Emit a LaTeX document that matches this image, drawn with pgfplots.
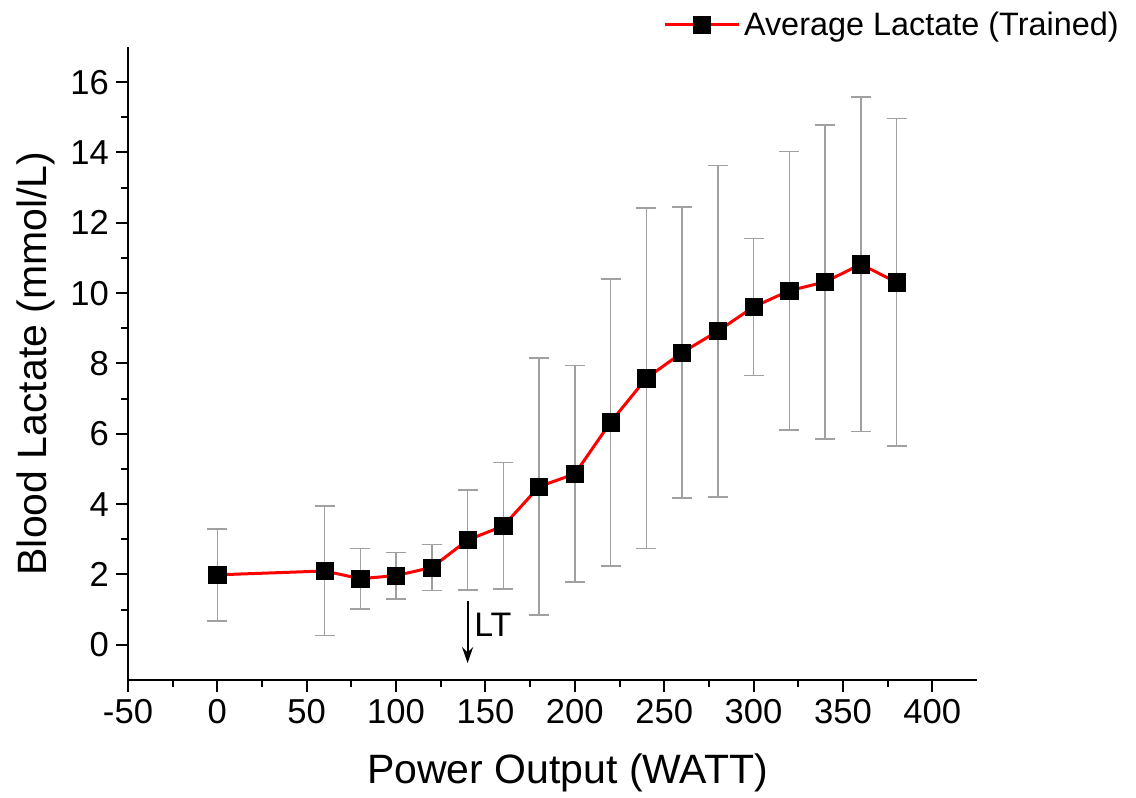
\documentclass[border=0pt]{standalone}
\usepackage{pgfplots}
\pgfplotsset{compat=1.18}
\usepackage{fontspec}
\setmainfont{Liberation Sans}
\usetikzlibrary{arrows.meta}
\definecolor{errgray}{RGB}{160,160,160}
\begin{document}
\begin{tikzpicture}
\path[use as bounding box] (-64pt,-59pt) rectangle (504pt,340pt);
\begin{axis}[
  scale only axis,
  width=424.5pt, height=316.5pt,
  xmin=-50, xmax=425, ymin=-1, ymax=17,
  axis x line*=bottom, axis y line*=left,
  axis line style={line width=1pt},
  tick align=outside,
  major tick length=6pt, minor tick length=3.5pt,
  every tick/.style={line width=1pt, black},
  xtick={-50,0,...,400}, ytick={0,2,...,16},
  minor x tick num=1, minor y tick num=1,
  /pgf/number format/assume math mode=true,
  tick label style={font=\fontsize{17.3}{19}\selectfont},
  xlabel={Power Output (WATT)},
  ylabel={Blood Lactate (mmol/L)},
  label style={font=\fontsize{20.5}{23}\selectfont},
  xlabel style={yshift=-8pt, xshift=7.5pt},
  ylabel style={yshift=1pt},
  legend style={draw=none, fill=none, at={(rel axis cs:1.172,1.035)}, anchor=east,
    font=\fontsize{16.2}{18}\selectfont, inner sep=0pt},
  legend image code/.code={\draw[#1,mark repeat=2,mark phase=2] plot coordinates {(0pt,0pt) (18.5pt,0pt) (37pt,0pt)};},
  clip=false,
]
\addplot[forget plot, draw=none, mark=none,
  error bars/.cd, y dir=both, y explicit,
  error bar style={draw=errgray, line width=0.8pt},
  error mark options={draw=errgray, rotate=90, mark size=5pt, line width=0.8pt}]
  table[x=x, y=y, y error=e] {
x y e
0 1.99 1.31
60 2.10 1.84
80 1.88 0.86
100 1.97 0.66
120 2.20 0.65
140 2.98 1.42
160 3.38 1.80
180 4.50 3.66
200 4.86 3.08
220 6.33 4.08
240 7.58 4.84
260 8.31 4.14
280 8.92 4.71
300 9.61 1.95
320 10.07 3.96
340 10.32 4.46
360 10.82 4.75
380 10.31 4.66
};
\addplot[red, line width=1.5pt, mark=square*, mark size=4.3pt,
  mark options={fill=black, draw=black, line width=0.3pt}]
  table[x=x, y=y] {
x y
0 1.99
60 2.10
80 1.88
100 1.97
120 2.20
140 2.98
160 3.38
180 4.50
200 4.86
220 6.33
240 7.58
260 8.31
280 8.92
300 9.61
320 10.07
340 10.32
360 10.82
380 10.31
};
\addlegendentry{Average Lactate (Trained)}
\draw[-{Stealth[length=8pt,width=5.5pt]}, line width=0.9pt] (axis cs:140,1.25) -- (axis cs:140,-0.52);
\node[anchor=west, inner sep=0pt, font=\fontsize{17}{19}\selectfont] at (axis cs:143.5,0.57) {LT};
\end{axis}
\end{tikzpicture}
\end{document}
